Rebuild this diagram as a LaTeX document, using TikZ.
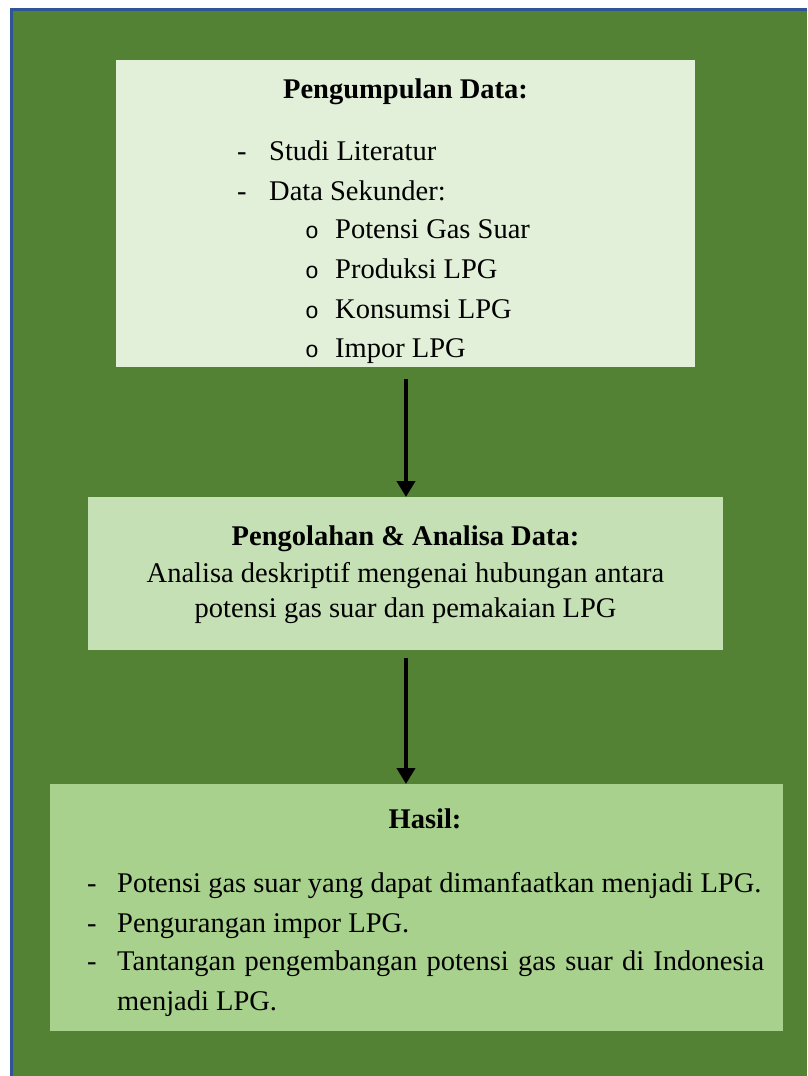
\documentclass[tikz,border=0pt]{standalone}
\usepackage{fontspec}
\setmainfont{Liberation Serif}
\newfontfamily\bulletfont{Liberation Mono}
\usetikzlibrary{arrows.meta}
\definecolor{bggreen}{HTML}{548235}
\definecolor{frameblue}{HTML}{2F5597}
\definecolor{fillA}{HTML}{E2F0D9}
\definecolor{fillB}{HTML}{C5E0B4}
\definecolor{fillC}{HTML}{A9D18E}
\tikzset{
  panel/.style={draw=none, inner sep=0pt, anchor=north west},
  txt/.style={inner sep=0pt, anchor=base west, font=\fontsize{28.5}{33}\selectfont},
  ttl/.style={inner sep=0pt, anchor=base, font=\fontsize{28.5}{33}\selectfont\bfseries},
  ctr/.style={inner sep=0pt, anchor=base, font=\fontsize{28.5}{33}\selectfont},
  bul/.style={inner sep=0pt, anchor=base west, font=\fontsize{23}{26}\bulletfont},
  flow/.style={line width=4pt, -{Triangle[width=18pt,length=16pt]}}
}
\begin{document}
\begin{tikzpicture}[x=1pt,y=-1pt]
\useasboundingbox (0,0) rectangle (807,1076);
\fill[white] (0,0) rectangle (807,1076);
\fill[bggreen] (11,9) rectangle (807,1076);
\draw[frameblue, line width=2.5pt] (11.25,1076) -- (11.25,9.25) -- (807,9.25);
% boxes
\node[panel, fill=fillA, minimum width=579pt, minimum height=307pt] (b1) at (116,60) {};
\node[panel, fill=fillB, minimum width=635pt, minimum height=153pt] (b2) at (88,497) {};
\node[panel, fill=fillC, minimum width=733pt, minimum height=247pt] (b3) at (50,784) {};
% box 1 text
\node[ttl] (t1) at (405.5,98) {Pengumpulan Data:};
\node[txt] (d1) at (237,160) {-};
\node[txt] (s1) at (269,160) {Studi Literatur};
\node[txt] (d2) at (237,200) {-};
\node[txt] (s2) at (269,200) {Data Sekunder:};
\node[bul] (o1) at (305,238) {o};
\node[txt] (p1) at (335,238) {Potensi Gas Suar};
\node[bul] (o2) at (305,278) {o};
\node[txt] (p2) at (335,278) {Produksi LPG};
\node[bul] (o3) at (305,318) {o};
\node[txt] (p3) at (335,318) {Konsumsi LPG};
\node[bul] (o4) at (305,357) {o};
\node[txt] (p4) at (335,357) {Impor LPG};
% box 2 text
\node[ttl] (t2) at (405.5,545) {Pengolahan \& Analisa Data:};
\node[ctr] (a1) at (405.5,582) {Analisa deskriptif mengenai hubungan antara};
\node[ctr] (a2) at (405.5,617) {potensi gas suar dan pemakaian LPG};
% box 3 text
\node[ttl] (t3) at (425,828) {Hasil:};
\node[txt] (e1) at (87,892) {-};
\node[txt] (h1) at (117,892) {Potensi gas suar yang dapat dimanfaatkan menjadi LPG.};
\node[txt] (e2) at (87,932) {-};
\node[txt] (h2) at (117,932) {Pengurangan impor LPG.};
\node[txt] (e3) at (87,970) {-};
\node[txt] (h3) at (117,970) {\makebox[647pt][s]{Tantangan pengembangan potensi gas suar di Indonesia}};
\node[txt] (h4) at (117,1010) {menjadi LPG.};
% arrows
\coordinate (a1s) at (406,379);
\coordinate (a1e) at (406,493);
\coordinate (a2s) at (406,658);
\coordinate (a2e) at (406,773);
\draw[flow] (b1.south -| a1s) ++(0,12) -- (b2.north -| a1e);
\draw[flow] (b2.south -| a2s) ++(0,8) -- (b3.north -| a2e);
\end{tikzpicture}
\end{document}
